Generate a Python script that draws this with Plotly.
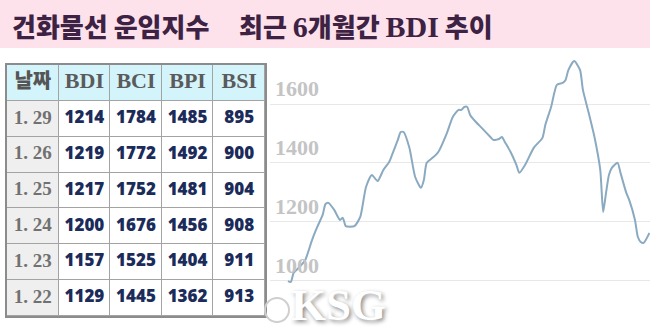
import plotly.graph_objects as go

# ---- table data ----
col_headers = ["날짜", "BDI", "BCI", "BPI", "BSI"]
dates = ["1. 29", "1. 26", "1. 25", "1. 24", "1. 23", "1. 22"]
bdi = [1214, 1219, 1217, 1200, 1157, 1129]
bci = [1784, 1772, 1752, 1676, 1525, 1445]
bpi = [1485, 1492, 1481, 1456, 1404, 1362]
bsi = [895, 900, 904, 908, 911, 913]

# ---- 6-month BDI trend (approximate, day index vs index value) ----
trend_day = [0, 1, 2, 4, 6, 8, 9, 10, 12, 13, 14, 16, 18, 19, 20, 23, 25, 27, 29, 31,
             33, 35, 36, 38, 39, 40, 42, 44, 46, 47, 48, 50, 52, 55, 57, 59, 60, 61, 62, 63,
             65, 67, 70, 71, 73, 74, 75, 77, 79, 80, 82, 85, 88, 89, 91, 93, 95, 96, 97, 99,
             101, 102, 104, 106, 108, 109, 110, 111, 112, 114, 115, 117, 118, 120, 121, 122, 123, 125]
trend_bdi = [998, 995, 1026, 1046, 1070, 1128, 1155, 1179, 1223, 1260, 1264, 1240, 1206, 1213, 1185, 1185, 1216, 1318, 1359, 1338,
             1376, 1403, 1427, 1478, 1505, 1505, 1451, 1352, 1315, 1342, 1400, 1417, 1437, 1502, 1556, 1580, 1580, 1590, 1590, 1563,
             1539, 1519, 1488, 1478, 1481, 1488, 1471, 1437, 1393, 1366, 1393, 1451, 1485, 1529, 1590, 1665, 1672, 1682, 1716, 1746,
             1716, 1648, 1570, 1488, 1376, 1233, 1298, 1359, 1383, 1400, 1366, 1298, 1274, 1206, 1148, 1131, 1128, 1162]
y_ticks = [1000, 1200, 1400, 1600]

SERIF = "font-family:Liberation Serif;font-size:30px;font-weight:bold"
title_left = "건화물선 운임지수"
title_right = ("최근 <span style='%s'>6</span>개월간 <span style='%s'>BDI</span> 추이" % (SERIF, SERIF))

W, H = 650, 332
fig = go.Figure()

# ---- line chart ----
fig.add_trace(go.Scatter(
    x=trend_day, y=trend_bdi, mode="lines",
    line=dict(color="#8aaac1", width=2, shape="spline", smoothing=0.6),
    hoverinfo="skip", showlegend=False,
))

# ---- table as heatmap grid on its own axes ----
ncol = len(col_headers)
nrow = len(dates) + 1
cols_idx = list(range(ncol))
rows_idx = list(range(nrow))
z_border = [[0] * ncol for _ in rows_idx]
z_cells = [[0 if r == 0 else (1 if c == 0 else 2) for c in cols_idx] for r in rows_idx]

fig.add_trace(go.Heatmap(
    x=cols_idx, y=rows_idx, z=z_border, xaxis="x2", yaxis="y2",
    colorscale=[[0, "#a3a3a3"], [1, "#a3a3a3"]], showscale=False, hoverinfo="skip",
))
fig.add_trace(go.Heatmap(
    x=cols_idx, y=rows_idx, z=z_cells, xaxis="x2", yaxis="y2", zmin=0, zmax=2,
    colorscale=[[0, "#d4f4fb"], [0.33, "#d4f4fb"], [0.34, "#efefef"], [0.66, "#efefef"],
                [0.67, "#ffffff"], [1, "#ffffff"]],
    xgap=1, ygap=1, showscale=False, hoverinfo="skip",
))

def text_trace(xs, ys, texts, family, size, color, weight="bold"):
    fig.add_trace(go.Scatter(
        x=xs, y=ys, text=texts, mode="text",
        xaxis="x2", yaxis="y2", textposition="middle center",
        textfont=dict(family=family, size=size, color=color, weight=weight),
        hoverinfo="skip", showlegend=False,
    ))

text_trace([0], [0], col_headers[:1], "Noto Sans CJK KR", 20, "#555555", 900)
text_trace(cols_idx[1:], [0] * (ncol - 1), col_headers[1:], "Liberation Serif", 22, "#5b5b5b")
text_trace([0] * len(dates), rows_idx[1:], dates, "Liberation Serif", 19, "#717171")
vx, vy, vt = [], [], []
for c, col in enumerate((bdi, bci, bpi, bsi), start=1):
    for r, v in enumerate(col, start=1):
        vx.append(c)
        vy.append(r)
        vt.append(str(v))
text_trace(vx, vy, vt, "Noto Sans", 17, "#1b2b5a", 900)

# pink title band
fig.add_shape(type="rect", xref="paper", yref="paper", x0=0, x1=1, y0=(H - 48) / H, y1=1,
              fillcolor="#fde2ec", line=dict(width=0), layer="below")

fig.add_annotation(text=title_left, xref="paper", yref="paper",
                   x=10 / W, y=(H - 26) / H, xanchor="left", yanchor="middle", showarrow=False,
                   font=dict(family="Noto Sans CJK KR", size=26, color="#3d2243", weight=900))
fig.add_annotation(text=title_right, xref="paper", yref="paper",
                   x=237 / W, y=(H - 26) / H, xanchor="left", yanchor="middle", showarrow=False,
                   font=dict(family="Noto Sans CJK KR", size=26, color="#3d2243", weight=900))

# KSG watermark
fig.add_annotation(text="<b>KSG</b>", xref="paper", yref="paper",
                   x=289 / W, y=0, xanchor="left", yanchor="bottom", showarrow=False,
                   font=dict(family="Liberation Serif", size=45, color="#ffffff",
                             shadow="2px 2px 4px #8a8a8a"))
fig.add_shape(type="circle", xref="paper", yref="paper",
              x0=265 / W, x1=289 / W, y0=(H - 322) / H, y1=(H - 298) / H,
              line=dict(color="#cfcfcf", width=2), fillcolor="rgba(0,0,0,0)")

fig.update_layout(
    width=W, height=H, margin=dict(l=0, r=0, t=0, b=0),
    paper_bgcolor="white", plot_bgcolor="white",
    xaxis=dict(domain=[270 / W, 1], range=[-6.2, 125.2], visible=False),
    yaxis=dict(domain=[(H - 320) / H, (H - 50) / H], range=[865.7, 1783.7],
               tickvals=y_ticks, ticktext=[str(t) for t in y_ticks],
               ticklabelposition="inside top", ticklabelstandoff=2,
               tickfont=dict(family="Liberation Serif", size=22, color="#c4c4c4", weight="bold"),
               gridcolor="#e8e8e8", gridwidth=1, zeroline=False, showline=False, ticks=""),
    xaxis2=dict(domain=[7 / W, 265 / W], range=[-0.5, ncol - 0.5], anchor="y2",
                showgrid=False, zeroline=False, showticklabels=False, ticks="",
                showline=True, mirror=True, linecolor="#8c8c8c", linewidth=2, fixedrange=True),
    yaxis2=dict(domain=[(H - 316) / H, (H - 65) / H], range=[nrow - 0.5, -0.5], anchor="x2",
                showgrid=False, zeroline=False, showticklabels=False, ticks="",
                showline=True, mirror=True, linecolor="#8c8c8c", linewidth=2, fixedrange=True),
)

fig.write_html("out.html")
